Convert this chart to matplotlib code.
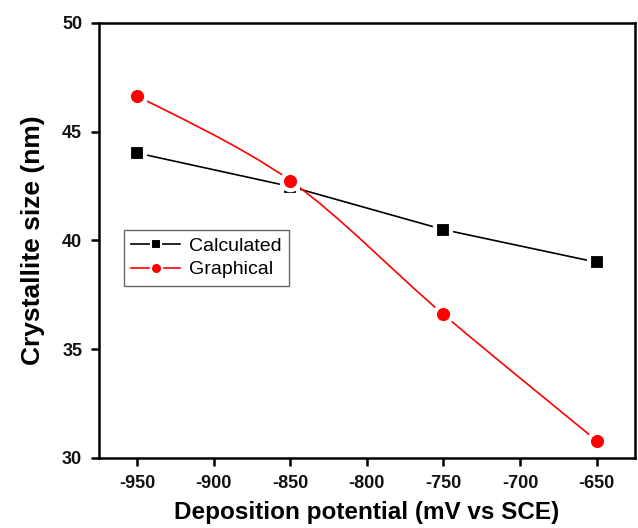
import numpy as np
import matplotlib
matplotlib.use("Agg")
import matplotlib.pyplot as plt
from matplotlib.path import Path
from matplotlib.patches import PathPatch
from matplotlib.lines import Line2D

# dados
potencial = [-950, -850, -750, -650]
calculado = [44.02, 42.48, 40.5, 39.0]
grafico = [46.65, 42.75, 36.6, 30.8]

plt.rcParams['font.family'] = ['Liberation Sans', 'DejaVu Sans']
plt.rcParams['axes.unicode_minus'] = False

fig = plt.figure(figsize=(6.38, 5.28), dpi=100)
ax = fig.add_axes([0.155, 0.1326, 0.84, 0.824])


# curva suave (Catmull-Rom -> Bezier) passando pelos pontos
def caminho_suave(x, y):
    x = np.asarray(x, float)
    y = np.asarray(y, float)
    verts = [(x[0], y[0])]
    codes = [Path.MOVETO]
    n = len(x)
    for i in range(n - 1):
        x0, y0 = (x[i - 1], y[i - 1]) if i > 0 else (x[i], y[i])
        x3, y3 = (x[i + 2], y[i + 2]) if i + 2 < n else (x[i + 1], y[i + 1])
        c1 = (x[i] + (x[i + 1] - x0) / 6, y[i] + (y[i + 1] - y0) / 6)
        c2 = (x[i + 1] - (x3 - x[i]) / 6, y[i + 1] - (y3 - y[i]) / 6)
        verts += [c1, c2, (x[i + 1], y[i + 1])]
        codes += [Path.CURVE4] * 3
    return Path(verts, codes)


# linha preta (reta entre pontos)
ax.plot(potencial, calculado, color='black', lw=1.2, zorder=2)
# linha vermelha suave
ax.add_patch(PathPatch(caminho_suave(potencial, grafico), facecolor='none',
                       edgecolor='red', lw=1.2, zorder=2))

# marcadores com borda branca para abrir o espaco na linha
ax.plot(potencial, calculado, ls='none', marker='s', ms=11.5, mfc='black',
        mec='white', mew=3, zorder=3)
ax.plot(potencial, grafico, ls='none', marker='o', ms=12.5, mfc='red',
        mec='white', mew=3, zorder=3)

ax.set_xlim(-975, -625)
ax.set_ylim(30, 50)
ax.set_xticks([-950, -900, -850, -800, -750, -700, -650])
ax.set_yticks([30, 35, 40, 45, 50])

for s in ax.spines.values():
    s.set_linewidth(1.8)

ax.tick_params(direction='out', length=6, width=1.8, labelsize=13, top=False, right=False, pad=6)
for lab in ax.get_xticklabels() + ax.get_yticklabels():
    lab.set_fontweight('bold')
    lab.set_color('#111111')

ax.set_xlabel('Deposition potential (mV vs SCE)', fontsize=17.5, fontweight='bold', labelpad=7)
ax.set_ylabel('Crystallite size (nm)', fontsize=19, fontweight='bold', labelpad=12)

handles = [
    Line2D([], [], color='black', lw=1.2, marker='s', ms=7, mfc='black', mec='white', mew=1.5),
    Line2D([], [], color='red', lw=1.2, marker='o', ms=8, mfc='red', mec='white', mew=1.5),
]
leg = ax.legend(handles, ['Calculated', 'Graphical'], loc='upper left',
                bbox_to_anchor=(0.046, 0.525), fontsize=14, frameon=True,
                fancybox=False, edgecolor='#444444', handlelength=2.5,
                borderpad=0.4, labelspacing=0.3, handletextpad=0.45,
                borderaxespad=0)
leg.get_frame().set_linewidth(1.0)

fig.savefig('out.png', dpi=100)
